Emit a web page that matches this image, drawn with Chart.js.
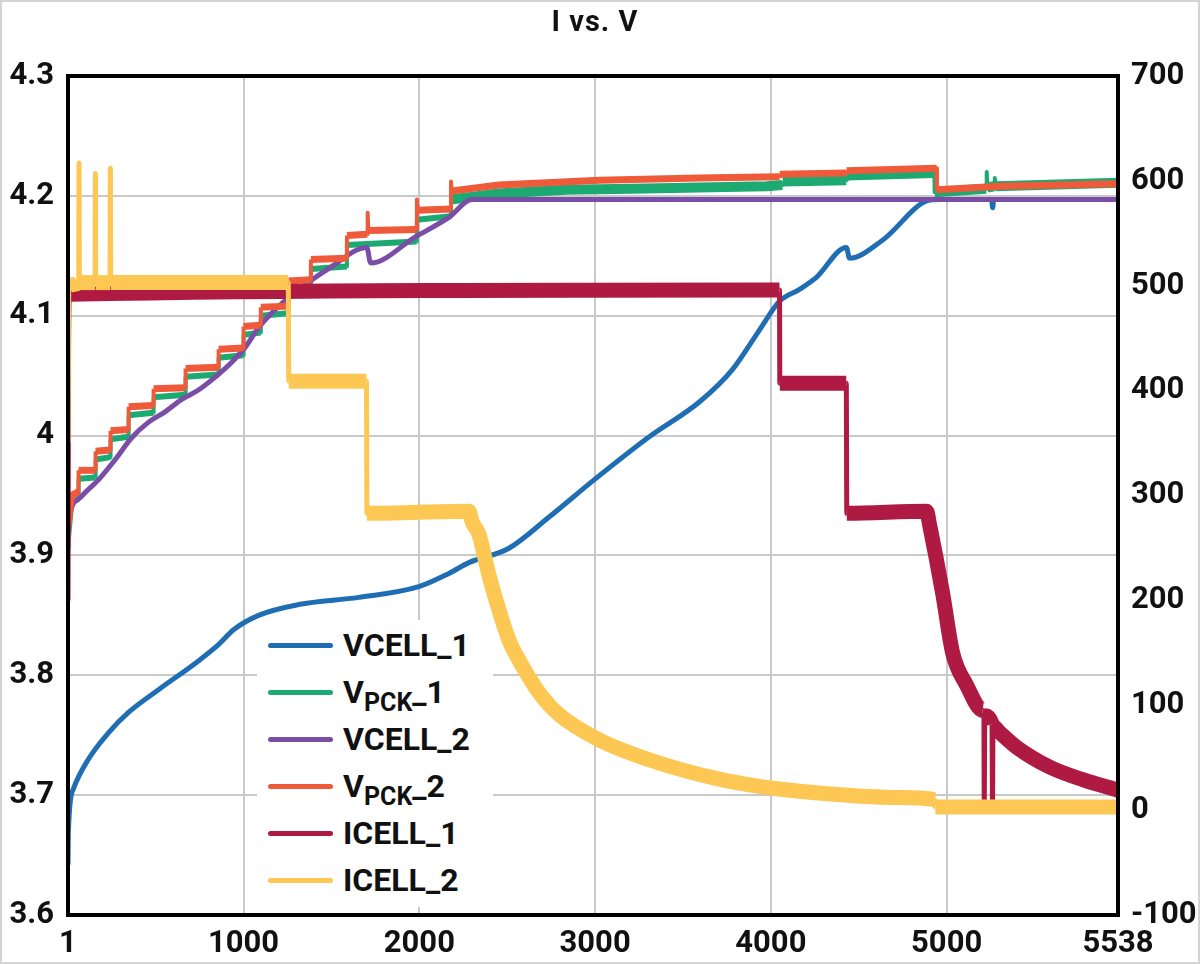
<!DOCTYPE html>
<html>
<head>
<meta charset="utf-8">
<title>I vs. V</title>
<script src="https://cdn.jsdelivr.net/npm/chart.js@4.4.1/dist/chart.umd.min.js"></script>
<style>
  body { margin: 0; background: #fff; }
  #wrap { position: relative; width: 1200px; height: 964px; font-family: Roboto, 'Noto Sans', sans-serif; color: #111; }
  #chart { position: absolute; left: 0; top: 0; }
  #title { position: absolute; top: 7px; left: 0; width: 1190px; text-align: center; font-weight: 700; font-size: 29px; line-height: 29px; letter-spacing: 1px; }
  #legend { position: absolute; left: 257px; top: 620px; width: 236px; height: 287px; background: #fff; }
  .row { position: absolute; left: 0; width: 236px; height: 47px; line-height: 47px; font-weight: 700; font-size: 32px; white-space: nowrap; }
  .swatch { position: absolute; left: 11px; top: 21px; width: 65px; height: 5px; border-radius: 3px; }
  .label { position: absolute; left: 86px; top: 0; }
  .label sub { font-size: 25px; line-height: 0; vertical-align: -8px; }
</style>
</head>
<body>
<div id="wrap">
  <canvas id="chart" width="1200" height="964"></canvas>
  <div id="title">I vs. V</div>
  <div id="legend"></div>
</div>
<script>
// tick positions and labels (last x label of the source reads 5538 at the right edge)
const xTickValues = [1, 1000, 2000, 3000, 4000, 5000, 5975];
const xTickLabels = ['1', '1000', '2000', '3000', '4000', '5000', '5538'];
const voltTickValues = [3.6, 3.7, 3.8, 3.9, 4.0, 4.1, 4.2, 4.3];
const voltTickLabels = ['3.6', '3.7', '3.8', '3.9', '4', '4.1', '4.2', '4.3'];
const currentTickValues = [-100, 0, 100, 200, 300, 400, 500, 600, 700];
const currentTickLabels = ['-100', '0', '100', '200', '300', '400', '500', '600', '700'];

const seriesLabels = ['VCELL_1', 'V<sub>PCK</sub>_1', 'VCELL_2', 'V<sub>PCK</sub>_2', 'ICELL_1', 'ICELL_2'];
const seriesColors = ['#1f6eb4', '#1daa72', '#7a4ea6', '#ef5a3a', '#ae1a42', '#fcc752'];

// [sample, volts]
const vcell1 = [
  [1, 3.642], [3, 3.669], [31, 3.705], [117, 3.730], [231, 3.752], [345, 3.769], [516, 3.788],
  [743, 3.812], [860, 3.826], [943, 3.838], [1085, 3.850], [1313, 3.859], [1655, 3.865],
  [1997, 3.874], [2168, 3.885], [2282, 3.894], [2510, 3.906], [2738, 3.932], [2994, 3.963],
  [3308, 3.999], [3593, 4.028], [3781, 4.055], [3935, 4.088], [4049, 4.112], [4163, 4.122],
  [4259, 4.132], [4430, 4.157], [4447, 4.148], [4635, 4.163], [4892, 4.196], [4960, 4.197],
  [5255, 4.197], [5262, 4.190], [5268, 4.197], [5975, 4.197]
];

const vpck1 = [
  [1, 3.915], [20, 3.944], [60, 3.947], [61, 3.964], [157, 3.965], [158, 3.980], [242, 3.982],
  [243, 3.997], [345, 3.999], [346, 4.017], [487, 4.019], [488, 4.032], [669, 4.034], [670, 4.049],
  [857, 4.051], [858, 4.065], [999, 4.067], [1000, 4.084], [1097, 4.086], [1098, 4.100],
  [1255, 4.102], [1256, 4.121], [1382, 4.123], [1383, 4.139], [1587, 4.141], [1588, 4.159],
  [1985, 4.162], [1986, 4.180], [2179, 4.183], [2180, 4.197], [2453, 4.202], [2835, 4.205],
  [3211, 4.206], [3975, 4.208], [4065, 4.209], [4067, 4.212], [4429, 4.213], [4431, 4.217],
  [4930, 4.219], [4932, 4.203], [5225, 4.206], [5228, 4.220], [5232, 4.207], [5270, 4.208],
  [5274, 4.215], [5278, 4.208], [5975, 4.211]
];

const vcell2 = [
  [1, 3.905], [6, 3.928], [14, 3.936], [77, 3.949], [174, 3.963], [270, 3.980], [362, 3.998],
  [458, 4.011], [555, 4.020], [646, 4.030], [743, 4.038], [840, 4.049], [931, 4.061],
  [1011, 4.074], [1085, 4.090], [1239, 4.113], [1501, 4.141], [1701, 4.157], [1723, 4.144],
  [1980, 4.166], [2168, 4.182], [2299, 4.197], [5975, 4.197]
];

const vpck2 = [
  [1, 3.925], [20, 3.950], [60, 3.953], [61, 3.971], [157, 3.971], [158, 3.987], [242, 3.988],
  [243, 4.004], [345, 4.005], [346, 4.024], [487, 4.025], [488, 4.039], [669, 4.040], [670, 4.056],
  [857, 4.057], [858, 4.072], [999, 4.073], [1000, 4.091], [1097, 4.092], [1098, 4.107],
  [1255, 4.108], [1256, 4.129], [1382, 4.130], [1383, 4.147], [1587, 4.148], [1588, 4.167],
  [1704, 4.168], [1706, 4.186], [1709, 4.171], [1985, 4.172], [1986, 4.197], [1990, 4.188],
  [2179, 4.189], [2180, 4.212], [2184, 4.204], [2453, 4.209], [3023, 4.213], [3593, 4.215],
  [4048, 4.216], [4050, 4.218], [4429, 4.219], [4431, 4.221], [4943, 4.223], [4945, 4.205],
  [5302, 4.208], [5975, 4.210]
];

// [sample, mA]
const icell1 = [
  [1, 200], [4, 430], [10, 492], [4049, 496], [4051, 407], [4429, 407], [4432, 283], [4886, 285],
  [4903, 272], [4977, 207], [5034, 150], [5114, 119], [5205, 95], [5212, 92], [5214, 8], [5217, 90],
  [5258, 82], [5261, 8], [5264, 80], [5302, 74], [5398, 60], [5587, 41], [5775, 29], [5975, 19]
];

const icell2 = [
  [1, 350], [5, 500], [62, 503], [64, 617], [66, 503], [155, 503], [157, 607], [159, 503],
  [240, 503], [242, 612], [244, 503], [1254, 503], [1257, 409], [1699, 409], [1702, 283],
  [2282, 285], [2300, 275], [2339, 263], [2396, 224], [2453, 191], [2510, 162], [2567, 143],
  [2681, 112], [2795, 91], [3023, 67], [3308, 48], [3593, 34], [3878, 24], [4163, 18],
  [4732, 12], [4932, 10], [4936, 3], [5975, 3]
];

// noisy traces are drawn as wide bands, the sharp steps stay thin
function bandWidth(flat, vertical, flatAfter, fromX) {
  return ctx => {
    const dx = Math.abs(ctx.p1.x - ctx.p0.x);
    if (dx < 1.5) return vertical;
    if (fromX !== undefined && ctx.p0.parsed.x >= fromX) return flatAfter;
    return flat;
  };
}

function series(i, data, axis, width, order, segWidth, smooth) {
  const ds = {
    label: seriesLabels[i].replace(/<\/?sub>/g, ''),
    data: data,
    yAxisID: axis,
    borderColor: seriesColors[i],
    backgroundColor: seriesColors[i],
    borderWidth: width,
    borderJoinStyle: 'round',
    pointRadius: 0,
    tension: 0,
    order: order,
    clip: 0
  };
  if (smooth) ds.cubicInterpolationMode = 'monotone';
  if (segWidth) ds.segment = { borderWidth: segWidth };
  return ds;
}

const datasets = [
  series(0, vcell1, 'y', 5, 6, null, true),
  series(1, vpck1, 'y', 7, 5, bandWidth(6, 4, 10, 2180)),
  series(2, vcell2, 'y', 5, 4, null, true),
  series(3, vpck2, 'y', 7, 3, bandWidth(7, 4)),
  series(4, icell1, 'y1', 15, 2, bandWidth(15, 5), true),
  series(5, icell2, 'y1', 16, 1, bandWidth(15, 5), true)
];

const tickFont = { family: 'Roboto', weight: 'bold', size: 31 };
const gridColor = '#c9c9c9';

const framePlugin = {
  id: 'frame',
  beforeDraw(chart) {
    const c = chart.ctx;
    c.save();
    c.fillStyle = '#fff';
    c.fillRect(0, 0, chart.width, chart.height);
    c.strokeStyle = '#d4d4d4';
    c.lineWidth = 2;
    c.strokeRect(1, 1, chart.width - 2, chart.height - 2);
    c.restore();
  },
  afterDatasetsDraw(chart) {
    const a = chart.chartArea;
    const c = chart.ctx;
    c.save();
    c.strokeStyle = '#000';
    c.lineWidth = 4;
    c.strokeRect(a.left, a.top, a.right - a.left, a.bottom - a.top);
    c.restore();
  }
};

new Chart(document.getElementById('chart'), {
  type: 'line',
  data: { datasets: datasets },
  options: {
    responsive: false,
    animation: false,
    events: [],
    layout: { padding: { top: 76, left: 0, right: 0, bottom: 0 } },
    plugins: { legend: { display: false }, tooltip: { enabled: false }, title: { display: false } },
    scales: {
      x: {
        type: 'linear',
        min: xTickValues[0],
        max: xTickValues[xTickValues.length - 1],
        afterBuildTicks: s => { s.ticks = xTickValues.map(v => ({ value: v })); },
        afterFit: s => { s.height = 49; },
        ticks: { callback: (v, i) => xTickLabels[i], font: tickFont, color: '#111', padding: 11, autoSkip: false, maxRotation: 0 },
        grid: { color: gridColor, lineWidth: 2, drawTicks: false },
        border: { display: false }
      },
      y: {
        position: 'left',
        min: voltTickValues[0],
        max: voltTickValues[voltTickValues.length - 1],
        afterBuildTicks: s => { s.ticks = voltTickValues.map(v => ({ value: v })); },
        afterFit: s => { s.width = 68; },
        ticks: { callback: (v, i) => voltTickLabels[i], font: tickFont, color: '#111', padding: 14 },
        grid: { color: gridColor, lineWidth: 2, drawTicks: false },
        border: { display: false }
      },
      y1: {
        position: 'right',
        min: currentTickValues[0],
        max: currentTickValues[currentTickValues.length - 1],
        afterBuildTicks: s => { s.ticks = currentTickValues.map(v => ({ value: v })); },
        afterFit: s => { s.width = 82; },
        ticks: { callback: (v, i) => currentTickLabels[i], font: tickFont, color: '#111', padding: 13 },
        grid: { display: false, drawTicks: false },
        border: { display: false }
      }
    }
  },
  plugins: [framePlugin]
});

// legend with subscripts, boxed in white over the grid
const legend = document.getElementById('legend');
seriesLabels.forEach((label, i) => {
  const row = document.createElement('div');
  row.className = 'row';
  row.style.top = (2 + i * 47) + 'px';
  row.innerHTML = `<span class="swatch" style="background:${seriesColors[i]}"></span><span class="label">${label}</span>`;
  legend.appendChild(row);
});
</script>
</body>
</html>
